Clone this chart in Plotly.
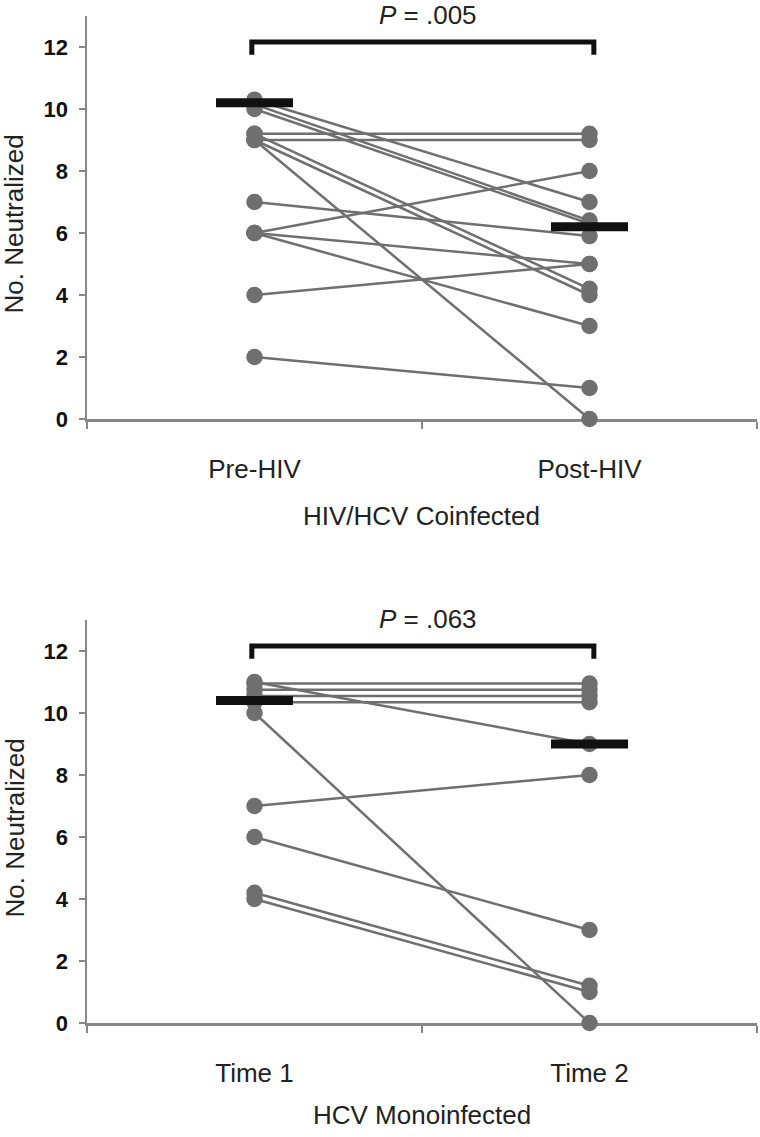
import plotly.graph_objects as go

# ---------------- data ----------------
categories_top = ["Pre-HIV", "Post-HIV"]
categories_bot = ["Time 1", "Time 2"]

# paired values per subject (small visual offsets as drawn in the figure)
pre_top = [10.3, 10.15, 10.0, 9.2, 9.0, 9.2, 9.0, 9.0, 7, 6, 6, 6, 4, 2]
post_top = [7, 6.4, 6.3, 4.2, 4.0, 9.2, 9.0, 0, 5.9, 8, 5, 3, 5, 1]

pre_bot = [11.0, 10.95, 10.75, 10.55, 10.35, 10.0, 7, 6, 4.2, 4]
post_bot = [9.0, 10.95, 10.75, 10.55, 10.35, 0, 8, 3, 1.2, 1]

median_top = [10.2, 6.2]
median_bot = [10.4, 9.0]

p_text_top = "<i>P</i> = .005"
p_text_bot = "<i>P</i> = .063"

ytick_vals = [0, 2, 4, 6, 8, 10, 12]

xtitle_top = "HIV/HCV Coinfected"
xtitle_bot = "HCV Monoinfected"
ytitle = "No. Neutralized"

# ---------------- styling ----------------
W, H = 760, 1137
FONT = "Liberation Sans, Arial, sans-serif"
GRAY = "#6f6f6f"
AXIS = "#878787"
X0, X1 = 87, 757
TOP = (16, 419)
BOT = (620, 1023)


def px_x(x):
    return x / W


def px_y(y):
    return 1 - y / H


fig = go.Figure()


def add_panel(pre, post, med, xa, ya):
    xs, ys = [], []
    for a, b in zip(pre, post):
        xs += [0, 1, None]
        ys += [a, b, None]
    fig.add_trace(go.Scatter(
        x=xs, y=ys, mode="lines+markers", xaxis=xa, yaxis=ya,
        line=dict(color=GRAY, width=2.5),
        marker=dict(size=16.5, color=GRAY),
        cliponaxis=False, showlegend=False, hoverinfo="skip"))
    fig.add_trace(go.Scatter(
        x=[0, 1], y=med, mode="markers", xaxis=xa, yaxis=ya,
        marker=dict(symbol="line-ew", size=55,
                    line=dict(color="#111111", width=9)),
        cliponaxis=False, showlegend=False, hoverinfo="skip"))
    # significance bracket
    fig.add_trace(go.Scatter(
        x=[-0.008, -0.008, 1.013, 1.013], y=[11.75, 12.16, 12.16, 11.75],
        mode="lines", xaxis=xa, yaxis=ya,
        line=dict(color="#111111", width=5),
        cliponaxis=False, showlegend=False, hoverinfo="skip"))


add_panel(pre_top, post_top, median_top, "x", "y")
add_panel(pre_bot, post_bot, median_bot, "x2", "y2")


def xaxis_cfg(cats, anchor):
    return dict(
        domain=[px_x(X0), px_x(X1)], range=[-0.5, 1.5], anchor=anchor,
        tickmode="array", tickvals=[0, 1], ticktext=cats, ticks="",
        showline=True, linecolor=AXIS, linewidth=2.5,
        showgrid=False, zeroline=False, layer="below traces",
        minor=dict(tickmode="array", tickvals=[-0.5, 0.5, 1.5], ticks="outside",
                   ticklen=7, tickwidth=2.5, tickcolor=AXIS, showgrid=False),
        tickfont=dict(family=FONT, size=26, color="#222222"),
        ticklabelstandoff=25, automargin=False, fixedrange=True)


def yaxis_cfg(dom, anchor):
    return dict(
        domain=[px_y(dom[1]), px_y(dom[0])], range=[0, 13], anchor=anchor,
        tickmode="array", tickvals=ytick_vals, ticks="outside", ticklen=6,
        tickwidth=2.5, tickcolor=AXIS,
        showline=True, linecolor=AXIS, linewidth=2.5,
        showgrid=False, zeroline=False, layer="below traces",
        tickfont=dict(family=FONT, size=22, color="#111111", weight="bold"),
        ticklabelstandoff=6, automargin=False, fixedrange=True)


annotations = []
for dom, ptxt, xt, xt_off in [(TOP, p_text_top, xtitle_top, 97),
                              (BOT, p_text_bot, xtitle_bot, 92)]:
    annotations.append(dict(
        x=px_x(428), y=px_y(dom[0] - 1), xref="paper", yref="paper", text=ptxt,
        showarrow=False, xanchor="center", yanchor="middle",
        font=dict(family=FONT, size=26, color="#222222")))
    annotations.append(dict(
        x=px_x(422), y=px_y(dom[1] + xt_off), xref="paper", yref="paper", text=xt,
        showarrow=False, xanchor="center", yanchor="middle",
        font=dict(family=FONT, size=26, color="#222222")))
    annotations.append(dict(
        x=px_x(14), y=px_y((dom[0] + dom[1]) / 2 + 7), xref="paper", yref="paper",
        text=ytitle, showarrow=False, textangle=-90,
        xanchor="center", yanchor="middle",
        font=dict(family=FONT, size=26, color="#222222")))

fig.update_layout(
    width=W, height=H,
    margin=dict(l=0, r=0, t=0, b=0),
    paper_bgcolor="white", plot_bgcolor="white",
    xaxis=xaxis_cfg(categories_top, "y"),
    yaxis=yaxis_cfg(TOP, "x"),
    xaxis2=xaxis_cfg(categories_bot, "y2"),
    yaxis2=yaxis_cfg(BOT, "x2"),
    annotations=annotations,
    showlegend=False,
)

fig.write_html(
    "out.html",
    config={"displayModeBar": False, "staticPlot": True},
    post_script="document.body.style.margin='0';document.body.style.overflow='hidden';",
)
